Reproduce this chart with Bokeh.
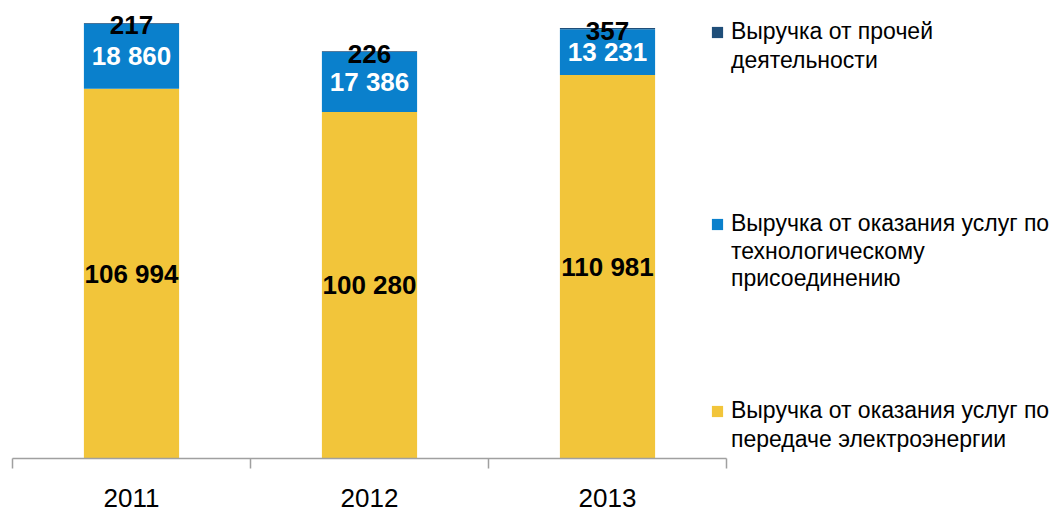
from bokeh.plotting import figure
from bokeh.models import Range1d, FixedTicker, ColumnDataSource, Legend, LegendItem
from bokeh.core.properties import value
from bokeh.embed import file_html
from bokeh.resources import INLINE

years = ["2011", "2012", "2013"]
transmission = [106994, 100280, 110981]
connection = [18860, 17386, 13231]
other = [217, 226, 357]
series_first = [
    "Выручка от оказания услуг по",
    "Выручка от оказания услуг по",
    "Выручка от прочей",
]
series_rest = [
    "передаче электроэнергии",
    "технологическому\nприсоединению",
    "деятельности",
]
colors = ["#F2C53A", "#0A80CC", "#1F4E79"]

FONT = "Liberation Sans"


def fmt(v):
    return f"{v:,}".replace(",", " ")


x = [i + 0.5 for i in range(len(years))]
top1 = list(transmission)
top2 = [a + b for a, b in zip(top1, connection)]
top3 = [a + b for a, b in zip(top2, other)]

src = ColumnDataSource(dict(
    x=x, zero=[0] * len(x), top1=top1, top2=top2, top3=top3,
    mid1=[t / 2 for t in top1],
    mid2=[a + b / 2 for a, b in zip(top1, connection)],
    mid3=[a + b / 2 for a, b in zip(top2, other)],
    lab1=[fmt(v) for v in transmission],
    lab2=[fmt(v) for v in connection],
    lab3=[fmt(v) for v in other],
))

# frame: 1044 px wide, one category = 238 px
x_end = 1044 / 238
p = figure(width=1056, height=512, output_backend="svg", toolbar_location=None,
           x_range=Range1d(0, x_end), y_range=Range1d(0, 132560),
           min_border_left=12, min_border_right=0, min_border_top=0,
           min_border_bottom=54)
p.outline_line_color = None
p.grid.visible = False
p.yaxis.visible = False

r1 = p.vbar(x="x", width=0.4, bottom="zero", top="top1", source=src,
            fill_color=colors[0], line_color=None)
r2 = p.vbar(x="x", width=0.4, bottom="top1", top="top2", source=src,
            fill_color=colors[1], line_color=None)
r3 = p.vbar(x="x", width=0.4, bottom="top2", top="top3", source=src,
            fill_color=colors[2], line_color=None)
dummy = p.scatter(x=[], y=[], size=0, fill_alpha=0, line_alpha=0)

common = dict(text_font=value(FONT), text_font_style="bold", text_font_size="26px",
              text_align="center", text_baseline="middle", source=src)
p.text(x="x", y="mid1", text="lab1", text_color="black", **common)
p.text(x="x", y="mid2", text="lab2", text_color="white", **common)
p.text(x="x", y="mid3", text="lab3", text_color="black", y_offset=2, **common)

ax = p.xaxis[0]
ax.bounds = (0, len(years))
ax.ticker = FixedTicker(ticks=x, minor_ticks=list(range(len(years) + 1)))
ax.major_label_overrides = {xi: y for xi, y in zip(x, years)}
ax.major_tick_line_color = None
ax.major_tick_out = 0
ax.major_tick_in = 0
ax.minor_tick_out = 10
ax.minor_tick_in = 0
ax.minor_tick_line_color = "#A0A0A0"
ax.minor_tick_line_width = 1.5
ax.axis_line_color = "#A0A0A0"
ax.axis_line_width = 1.5
ax.major_label_text_font = FONT
ax.major_label_text_font_size = "26px"
ax.major_label_text_color = "black"
ax.major_label_standoff = 20

renderers = [r1, r2, r3]
locs = [(698, 4), (698, 166), (698, 383)]
for first, rest, r, loc in zip(series_first, series_rest, renderers, locs):
    leg = Legend(items=[LegendItem(label=first, renderers=[r]),
                        LegendItem(label=rest, renderers=[dummy])],
                 location=loc, padding=0, margin=0, spacing=0,
                 glyph_width=14, glyph_height=14, label_standoff=7,
                 label_height=29,
                 label_text_font=FONT, label_text_font_size="23px",
                 label_text_line_height=1.26, label_text_color="black",
                 border_line_color=None, background_fill_alpha=0)
    p.add_layout(leg, "center")

open("out.html", "w").write(file_html(p, INLINE))
